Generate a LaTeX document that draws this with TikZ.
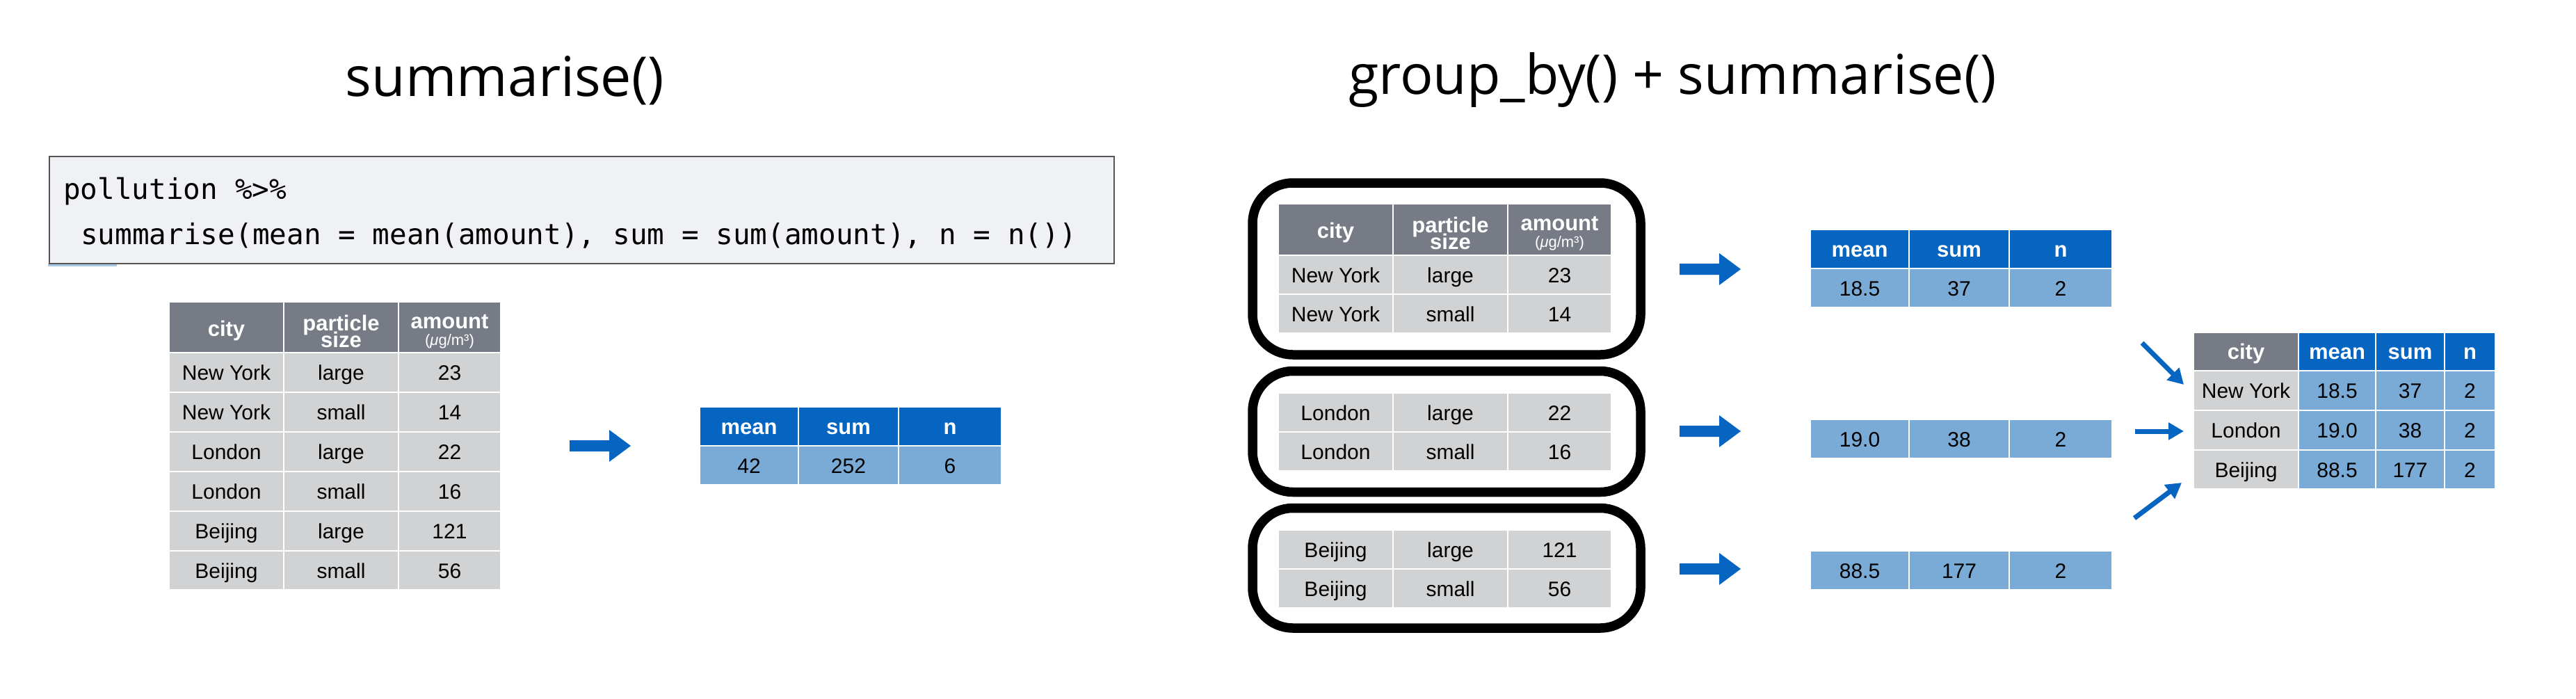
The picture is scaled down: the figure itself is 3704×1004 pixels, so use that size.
\documentclass[tikz,border=0pt]{standalone}
\usepackage{fontspec}
\setmainfont{Liberation Sans}
\newfontfamily\titlefont{Open Sans}
\newfontfamily\codefont{DejaVu Sans Mono}
\usetikzlibrary{arrows.meta,calc}
\definecolor{hdgray}{HTML}{767B85}
\definecolor{cellgray}{HTML}{D1D2D4}
\definecolor{dblue}{HTML}{0565C1}
\definecolor{lblue}{HTML}{7AAAD6}
\definecolor{codebg}{HTML}{F0F1F4}
\definecolor{codeline}{HTML}{555555}
\definecolor{stripblue}{HTML}{A9C9E9}
\tikzset{
  cellbg/.style={rectangle, draw=white, line width=2pt, inner sep=0pt, outer sep=0pt, anchor=north west},
  hdtxt/.style={text=white, font=\fontsize{31}{31}\selectfont\bfseries, inner sep=0pt, anchor=base},
  unittxt/.style={text=white, font=\fontsize{22}{22}\selectfont, inner sep=0pt, anchor=base},
  bodytxt/.style={text=black, font=\fontsize{30}{30}\selectfont, inner sep=0pt, anchor=base},
  titletxt/.style={text=black, font=\titlefont\fontsize{79}{79}\selectfont, inner sep=0pt, anchor=base},
  codetxt/.style={text=black, font=\codefont\fontsize{41}{41}\selectfont, inner sep=0pt, anchor=base west},
  grpbox/.style={draw=black, line width=13.5pt, rounded corners=58pt},
  thinarrow/.style={draw=dblue, line width=7pt, -{Triangle[length=22pt,width=24pt]}},
}
% name, x1, y1, x2, y2, fill, text style, text
\newcommand\tc[8]{%
  \node[cellbg, fill=#6, minimum width={(#4-#2)*1pt}, minimum height={(#5-#3)*1pt}] (#1) at (#2,#3) {};
  \node[#7] (#1t) at ([yshift=-11pt]#1.center) {#8};}
% name, x, y (centre of left end)
\newcommand\blockarrow[3]{%
  \coordinate (#1) at (#2,#3);
  \fill[dblue, shift={(#1)}] (0,-8) -- (57,-8) -- (57,-23) -- (88,0) -- (57,23) -- (57,8) -- (0,8) -- cycle;}
\begin{document}
\begin{tikzpicture}[x=1pt,y=-1pt]
\fill[white] (0,0) rectangle (3704,1004);
\useasboundingbox (0,0) rectangle (3704,1004);

% titles
\node[titletxt] (title1) at (726,138) {summarise()};
\node[titletxt] (title2) at (2405,135) {group\_by() + summarise()};

% code box
\fill[stripblue] (69,379) rectangle (168,383);
\draw[fill=codebg, draw=codeline, line width=1.5pt] (71,225) rectangle (1602,379);
\node[codetxt] (code1) at (91,286) {pollution \%>\%};
\node[codetxt] (code2) at (116,351) {summarise(mean = mean(amount), sum = sum(amount), n = n())};

% ---------- left input table ----------
\tc{Lh1}{243}{434}{408}{507}{hdgray}{hdtxt}{}
\tc{Lh2}{408}{434}{573}{507}{hdgray}{hdtxt}{}
\tc{Lh3}{573}{434}{720}{507}{hdgray}{hdtxt}{}
\node[hdtxt] (Lcity) at (325.5,483) {city};
\node[hdtxt] (Lpart) at (490.5,475) {particle};
\node[hdtxt] (Lsize) at (490.5,499) {size};
\node[hdtxt] (Lamt) at (646.5,472) {amount};
\node[unittxt] (Lunit) at (646.5,496) {(\textit{μ}g/m³)};
\tc{La1}{243}{507}{408}{564}{cellgray}{bodytxt}{New York}
\tc{La2}{408}{507}{573}{564}{cellgray}{bodytxt}{large}
\tc{La3}{573}{507}{720}{564}{cellgray}{bodytxt}{23}
\tc{Lb1}{243}{564}{408}{621}{cellgray}{bodytxt}{New York}
\tc{Lb2}{408}{564}{573}{621}{cellgray}{bodytxt}{small}
\tc{Lb3}{573}{564}{720}{621}{cellgray}{bodytxt}{14}
\tc{Lc1}{243}{621}{408}{678}{cellgray}{bodytxt}{London}
\tc{Lc2}{408}{621}{573}{678}{cellgray}{bodytxt}{large}
\tc{Lc3}{573}{621}{720}{678}{cellgray}{bodytxt}{22}
\tc{Ld1}{243}{678}{408}{735}{cellgray}{bodytxt}{London}
\tc{Ld2}{408}{678}{573}{735}{cellgray}{bodytxt}{small}
\tc{Ld3}{573}{678}{720}{735}{cellgray}{bodytxt}{16}
\tc{Le1}{243}{735}{408}{792}{cellgray}{bodytxt}{Beijing}
\tc{Le2}{408}{735}{573}{792}{cellgray}{bodytxt}{large}
\tc{Le3}{573}{735}{720}{792}{cellgray}{bodytxt}{121}
\tc{Lf1}{243}{792}{408}{848}{cellgray}{bodytxt}{Beijing}
\tc{Lf2}{408}{792}{573}{848}{cellgray}{bodytxt}{small}
\tc{Lf3}{573}{792}{720}{848}{cellgray}{bodytxt}{56}

\blockarrow{arrL}{819}{641}

% ---------- left result ----------
\tc{Rh1}{1006}{585}{1148}{641}{dblue}{hdtxt}{mean}
\tc{Rh2}{1148}{585}{1292}{641}{dblue}{hdtxt}{sum}
\tc{Rh3}{1292}{585}{1440}{641}{dblue}{hdtxt}{n}
\tc{Ra1}{1006}{641}{1148}{697}{lblue}{bodytxt}{42}
\tc{Ra2}{1148}{641}{1292}{697}{lblue}{bodytxt}{252}
\tc{Ra3}{1292}{641}{1440}{697}{lblue}{bodytxt}{6}

% ---------- grouped tables ----------
\draw[grpbox] (1801,263) rectangle (2359,510);
\draw[grpbox] (1801,533.5) rectangle (2359,707.5);
\draw[grpbox] (1801,730.5) rectangle (2359,903);

\tc{Gh1}{1838}{293}{2003}{367}{hdgray}{hdtxt}{}
\tc{Gh2}{2003}{293}{2168}{367}{hdgray}{hdtxt}{}
\tc{Gh3}{2168}{293}{2317}{367}{hdgray}{hdtxt}{}
\node[hdtxt] (Gcity) at (1920.5,342) {city};
\node[hdtxt] (Gpart) at (2085.5,334) {particle};
\node[hdtxt] (Gsize) at (2085.5,358) {size};
\node[hdtxt] (Gamt) at (2242.5,331) {amount};
\node[unittxt] (Gunit) at (2242.5,355) {(\textit{μ}g/m³)};
\tc{Ga1}{1838}{367}{2003}{423}{cellgray}{bodytxt}{New York}
\tc{Ga2}{2003}{367}{2168}{423}{cellgray}{bodytxt}{large}
\tc{Ga3}{2168}{367}{2317}{423}{cellgray}{bodytxt}{23}
\tc{Gb1}{1838}{423}{2003}{479}{cellgray}{bodytxt}{New York}
\tc{Gb2}{2003}{423}{2168}{479}{cellgray}{bodytxt}{small}
\tc{Gb3}{2168}{423}{2317}{479}{cellgray}{bodytxt}{14}

\tc{Gc1}{1838}{565}{2003}{621}{cellgray}{bodytxt}{London}
\tc{Gc2}{2003}{565}{2168}{621}{cellgray}{bodytxt}{large}
\tc{Gc3}{2168}{565}{2317}{621}{cellgray}{bodytxt}{22}
\tc{Gd1}{1838}{621}{2003}{677}{cellgray}{bodytxt}{London}
\tc{Gd2}{2003}{621}{2168}{677}{cellgray}{bodytxt}{small}
\tc{Gd3}{2168}{621}{2317}{677}{cellgray}{bodytxt}{16}

\tc{Ge1}{1838}{762}{2003}{818}{cellgray}{bodytxt}{Beijing}
\tc{Ge2}{2003}{762}{2168}{818}{cellgray}{bodytxt}{large}
\tc{Ge3}{2168}{762}{2317}{818}{cellgray}{bodytxt}{121}
\tc{Gf1}{1838}{818}{2003}{874}{cellgray}{bodytxt}{Beijing}
\tc{Gf2}{2003}{818}{2168}{874}{cellgray}{bodytxt}{small}
\tc{Gf3}{2168}{818}{2317}{874}{cellgray}{bodytxt}{56}

\blockarrow{arrG1}{2415}{387}
\blockarrow{arrG2}{2415}{620}
\blockarrow{arrG3}{2415}{818}

% ---------- group results ----------
\tc{Mh1}{2603}{330}{2745}{386}{dblue}{hdtxt}{mean}
\tc{Mh2}{2745}{330}{2889}{386}{dblue}{hdtxt}{sum}
\tc{Mh3}{2889}{330}{3037}{386}{dblue}{hdtxt}{n}
\tc{Ma1}{2603}{386}{2745}{442}{lblue}{bodytxt}{18.5}
\tc{Ma2}{2745}{386}{2889}{442}{lblue}{bodytxt}{37}
\tc{Ma3}{2889}{386}{3037}{442}{lblue}{bodytxt}{2}
\tc{Mb1}{2603}{603}{2745}{659}{lblue}{bodytxt}{19.0}
\tc{Mb2}{2745}{603}{2889}{659}{lblue}{bodytxt}{38}
\tc{Mb3}{2889}{603}{3037}{659}{lblue}{bodytxt}{2}
\tc{Mc1}{2603}{792}{2745}{848}{lblue}{bodytxt}{88.5}
\tc{Mc2}{2745}{792}{2889}{848}{lblue}{bodytxt}{177}
\tc{Mc3}{2889}{792}{3037}{848}{lblue}{bodytxt}{2}

% ---------- final table ----------
\tc{Fh1}{3154}{478}{3305}{533}{hdgray}{hdtxt}{city}
\tc{Fh2}{3305}{478}{3416}{533}{dblue}{hdtxt}{mean}
\tc{Fh3}{3416}{478}{3515}{533}{dblue}{hdtxt}{sum}
\tc{Fh4}{3515}{478}{3588}{533}{dblue}{hdtxt}{n}
\tc{Fa1}{3154}{533}{3305}{590}{cellgray}{bodytxt}{New York}
\tc{Fa2}{3305}{533}{3416}{590}{lblue}{bodytxt}{18.5}
\tc{Fa3}{3416}{533}{3515}{590}{lblue}{bodytxt}{37}
\tc{Fa4}{3515}{533}{3588}{590}{lblue}{bodytxt}{2}
\tc{Fb1}{3154}{590}{3305}{647}{cellgray}{bodytxt}{London}
\tc{Fb2}{3305}{590}{3416}{647}{lblue}{bodytxt}{19.0}
\tc{Fb3}{3416}{590}{3515}{647}{lblue}{bodytxt}{38}
\tc{Fb4}{3515}{590}{3588}{647}{lblue}{bodytxt}{2}
\tc{Fc1}{3154}{647}{3305}{703}{cellgray}{bodytxt}{Beijing}
\tc{Fc2}{3305}{647}{3416}{703}{lblue}{bodytxt}{88.5}
\tc{Fc3}{3416}{647}{3515}{703}{lblue}{bodytxt}{177}
\tc{Fc4}{3515}{647}{3588}{703}{lblue}{bodytxt}{2}

% ---------- thin arrows ----------
\coordinate (sa) at (3080,493);
\coordinate (ta) at (3140,553);
\coordinate (sb) at (3070,620);
\coordinate (tb) at (3140,620);
\coordinate (sc) at (3069,745);
\coordinate (tc) at (3137,694);
\draw[thinarrow] (sa) -- (ta);
\draw[thinarrow] (sb) -- (tb);
\draw[thinarrow] (sc) -- (tc);
\end{tikzpicture}
\end{document}
